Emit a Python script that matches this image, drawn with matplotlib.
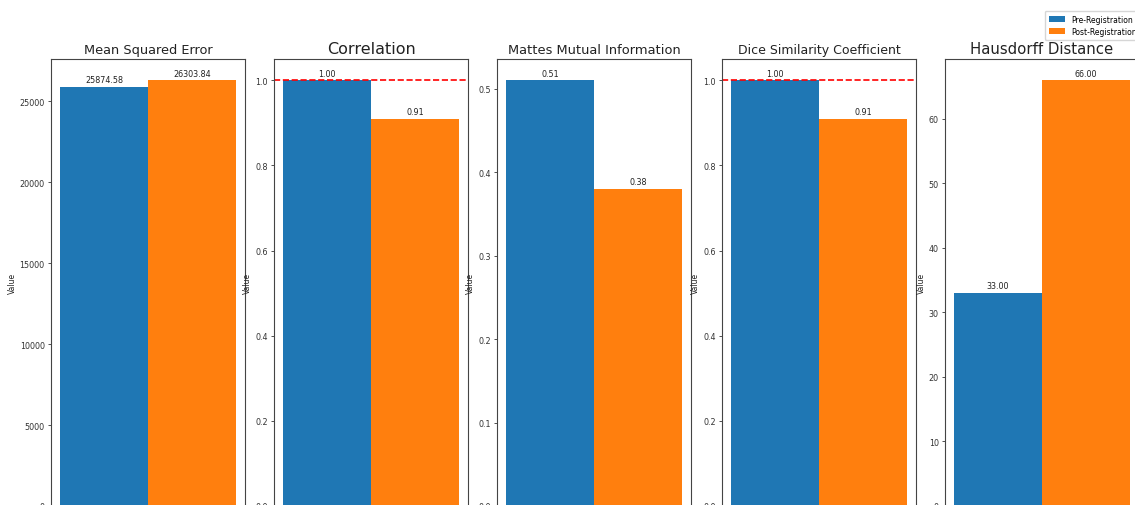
import matplotlib
matplotlib.use("Agg")
import matplotlib.pyplot as plt
import numpy as np

# registration quality metrics, before and after registration
metric_names = [
    "Mean Squared Error",
    "Correlation",
    "Mattes Mutual Information",
    "Dice Similarity Coefficient",
    "Hausdorff Distance",
]
pre_values = [25874.58, 1.00, 0.51, 1.00, 33.00]
post_values = [26303.84, 0.91, 0.38, 0.91, 66.00]
series_labels = ["Pre-Registration", "Post-Registration"]
ideal_line = [None, 1.0, None, 1.0, None]  # reference line for bounded metrics

title_sizes = [9.3, 11.5, 9.4, 9.0, 10.7]
colors = ["#1f77b4", "#ff7f0e"]

W, H = 1135, 506
fig = plt.figure(figsize=(W / 100, H / 100), dpi=100)

ax_w = 194
ax_top = 60
ax_bottom = 507
lefts = [51, 274, 497, 722, 945]

bars_for_legend = None
for i, name in enumerate(metric_names):
    ax = fig.add_axes([lefts[i] / W, 1 - ax_bottom / H, ax_w / W, (ax_bottom - ax_top) / H])
    width = 1.0
    x = np.array([0.0])
    b1 = ax.bar(x - width / 2, [pre_values[i]], width, color=colors[0], label=series_labels[0])
    b2 = ax.bar(x + width / 2, [post_values[i]], width, color=colors[1], label=series_labels[1])
    bars_for_legend = (b1, b2)

    for bars in (b1, b2):
        for rect in bars:
            h = rect.get_height()
            ax.annotate(f"{h:.2f}", xy=(rect.get_x() + rect.get_width() / 2, h),
                        xytext=(0, 2), textcoords="offset points",
                        ha="center", va="bottom", fontsize=5.8, color="#222222")

    if ideal_line[i] is not None:
        ax.axhline(ideal_line[i], color="red", linestyle="--", linewidth=1.2)

    ax.set_title(name, fontsize=title_sizes[i], color="#222222", pad=4)
    ax.set_ylabel("Value", fontsize=5.5, labelpad=2, color="#222222")
    ax.set_xticks([])
    ax.tick_params(axis="y", labelsize=5.8, length=2.5, width=0.6, pad=2, colors="#333333")
    for sp in ax.spines.values():
        sp.set_color("#444444")
        sp.set_linewidth(0.8)

fig.legend(bars_for_legend, series_labels, loc="upper left",
           bbox_to_anchor=(1041 / W, 1 - 8 / H), fontsize=5.5,
           handlelength=2.2, borderpad=0.5, labelspacing=0.4)

fig.savefig("out.png", dpi=100)
